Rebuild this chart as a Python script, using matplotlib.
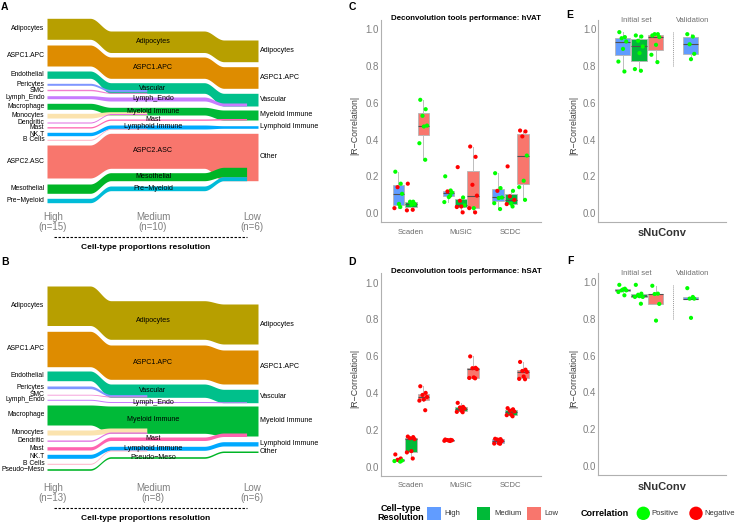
import numpy as np
import matplotlib
matplotlib.use("Agg")
import matplotlib.pyplot as plt
from matplotlib.patches import Rectangle, Circle

plt.rcParams['font.family'] = ['Liberation Sans', 'DejaVu Sans']

W, H = 740, 524

# ---------------- alluvial data (stacked positions at High / Medium / Low) ----------------
# panel A (hVAT)
A_flow = ['Adipocytes', 'ASPC1.APC', 'Endothelial', 'Macrophage', 'NK.T', 'ASPC2.ASC',
          'Lymph_Endo', 'Mesothelial', 'Pre−Myeloid', 'Pericytes', 'SMC', 'Monocytes',
          'Dendritic', 'Mast', 'B Cells']
A_mid = ['Adipocytes', 'ASPC1.APC', 'Vascular', 'Myeloid Immune', 'Lymphoid Immune', 'ASPC2.ASC',
         'Lymph_Endo', 'Mesothelial', 'Pre−Myeloid', None, None, None, None, 'Mast', None]
A_low = ['Adipocytes', 'ASPC1.APC', 'Vascular', 'Myeloid Immune', 'Lymphoid Immune', 'Other',
         None, None, None, None, None, None, None, None, None]
A_top = [[18.3, 31, 40], [45, 57, 66.7], [71, 82.7, 93.3], [103.3, 107.3, 110], [132.3, 125, 125.7],
         [145, 133.3, 133.3], [95.7, 97, 103], [184, 172.7, 167.3], [198.3, 186, 176.7],
         [83.3, 89.5], [89.3, 92.3], [113.3, 111.7], [122, 113.5], [126.7, 119, 118.5], [139.3, 128.3]]
A_bot = [[39.3, 52.5, 61.7], [66, 78.3, 88.3], [78.3, 93.3, 106], [109.3, 115, 120], [135.7, 129, 128.3],
         [178, 168.3, 180.7], [98.7, 101, 106], [193.3, 180.7, 176.7], [202.7, 190.7, 180.7],
         [85.3, 91.5], [90.7, 93.3], [118, 115], [123, 114.5], [128, 120.3, 120], [140.3, 129.3]]
A_n = [15, 10, 6]

# panel B (hSAT)
B_flow = ['Adipocytes', 'ASPC1.APC', 'Endothelial', 'Macrophage', 'NK.T', 'Pseudo−Meso',
          'Lymph_Endo', 'Pericytes', 'SMC', 'Monocytes', 'Dendritic', 'Mast', 'B Cells']
B_mid = ['Adipocytes', 'ASPC1.APC', 'Vascular', 'Myeloid Immune', 'Lymphoid Immune', 'Pseudo−Meso',
         'Lymph_Endo', None, None, None, None, 'Mast', None]
B_low = ['Adipocytes', 'ASPC1.APC', 'Vascular', 'Myeloid Immune', 'Lymphoid Immune', 'Other',
         None, None, None, None, None, None, None]
B_top = [[26, 40.7, 44], [71.3, 85, 90], [111, 124, 129.3], [145, 146, 146], [194.3, 186.3, 181.7],
         [208.7, 196.7, 191], [139.3, 141.5, 141.7], [126, 134.5], [134.3, 136], [170, 168],
         [180, 172], [186.7, 177, 173], [203.3, 190]]
B_bot = [[65.5, 79.3, 84], [106.7, 119.3, 124], [120.7, 137.3, 142.7], [165, 173.3, 176], [198.3, 190.3, 186],
         [210.3, 198.3, 192.5], [140.3, 142.5, 142.7], [128.7, 136.5], [135, 137], [175, 173.3],
         [181.3, 173.3], [190, 180.5, 176.5], [204.3, 191]]
B_n = [13, 8, 6]

stages = ['High', 'Medium', 'Low']

# ---------------- correlation data (signed R; |R| is plotted) ----------------
tools = ['Scaden', 'MuSiC', 'SCDC']
# [High, Medium, Low]
vat_scaden = [[0.225, 0.16, -0.141, 0.105, 0.05, -0.027, 0.033],
              [-0.16, 0.062, 0.062, 0.05, 0.045, -0.015, -0.018],
              [0.616, 0.565, 0.529, 0.476, 0.471, 0.38, 0.29]]
vat_music = [[0.2, 0.123, -0.118, 0.112, 0.087, 0.06, 0.095],
             [-0.25, 0.085, -0.067, 0.042, -0.036, -0.033, -0.004],
             [-0.362, -0.306, -0.154, -0.095, 0.027, -0.027, -0.004]]
vat_scdc = [[0.217, 0.136, -0.121, 0.085, 0.082, 0.054, 0.022],
            [-0.254, 0.121, -0.091, -0.072, 0.051, -0.049, 0.036],
            [-0.449, -0.444, -0.417, 0.313, 0.176, 0.141, 0.072]]

sat_scaden = [[-0.067, -0.045, -0.038, 0.034, -0.036, 0.031, 0.028],
              [-0.164, -0.161, -0.155, -0.15, -0.085, -0.078, -0.045],
              [-0.437, -0.401, -0.39, -0.379, -0.365, -0.359, -0.307]]
sat_music = [[-0.148, -0.146, -0.145, -0.144, -0.142, -0.141, -0.140],
             [-0.347, -0.325, -0.322, -0.316, -0.305, -0.298, -0.296],
             [-0.599, -0.537, -0.535, -0.53, -0.485, -0.482, -0.48]]
sat_scdc = [[-0.152, -0.15, -0.148, -0.14, -0.128, -0.126, -0.125],
            [-0.318, -0.312, -0.305, -0.3, -0.283, -0.28, -0.274],
            [-0.569, -0.527, -0.52, -0.515, -0.49, -0.477, -0.475]]

# sNuConv: initial set [High, Medium, Low] and validation (High)
vat_snuconv = [[0.984, 0.957, 0.951, 0.933, 0.893, 0.824, 0.77],
               [0.966, 0.96, 0.937, 0.906, 0.87, 0.783, 0.774],
               [0.966, 0.973, 0.973, 0.957, 0.915, 0.861, 0.821]]
vat_validation = [0.973, 0.96, 0.918, 0.866, 0.837]
sat_snuconv = [[0.987, 0.966, 0.957, 0.957, 0.962, 0.948, 0.93],
               [0.987, 0.939, 0.933, 0.921, 0.925, 0.921, 0.884],
               [0.982, 0.939, 0.937, 0.883, 0.792]]
sat_validation = [0.969, 0.921, 0.912, 0.912, 0.807]

# ---------------- styles ----------------
FLOW_COLORS = {'Adipocytes': '#B79F00', 'ASPC1.APC': '#DE8C00', 'Endothelial': '#00C08B',
               'Macrophage': '#00BA38', 'NK.T': '#00A9FF', 'ASPC2.ASC': '#F8766D',
               'Lymph_Endo': '#C77CFF', 'Mesothelial': '#00B526', 'Pre−Myeloid': '#00BCD8',
               'Pericytes': '#7F96FF', 'SMC': '#F27FCF', 'Monocytes': '#FBE3AE',
               'Dendritic': '#E16FE0', 'Mast': '#FF64B0', 'B Cells': '#FFB3C8',
               'Pseudo−Meso': '#00B526'}
RES_COLORS = ['#619CFF', '#00BA38', '#F8766D']
POS_COL, NEG_COL = '#00FF00', '#FF0000'
JITTER = np.array([-0.7, 0.5, -0.2, 0.8, 0.1, -0.9, 0.4, -0.4])
KNOTS = [47, 90, 111, 204, 224, 258]
STAGE_X = [53, 153, 252]
GREY = '#7f7f7f'

fig = plt.figure(figsize=(W / 100, H / 100), dpi=100)


def px_axes(x0, y0, x1, y1):
    return fig.add_axes([x0 / W, 1 - y1 / H, (x1 - x0) / W, (y1 - y0) / H])


def stage_curve(x, v):
    t1 = np.clip((x - KNOTS[1]) / (KNOTS[2] - KNOTS[1]), 0, 1)
    out = v[0] + (v[1] - v[0]) * (1 - np.cos(np.pi * t1)) / 2
    if len(v) > 2:
        t2 = np.clip((x - KNOTS[3]) / (KNOTS[4] - KNOTS[3]), 0, 1)
        out = out + (v[2] - v[1]) * (1 - np.cos(np.pi * t2)) / 2
    return out


def draw_alluvial(ax, flows, mids, lows, tops, bots, ns, axis_y):
    xs = np.linspace(KNOTS[0], KNOTS[-1], 500)
    for name, mid, low, top, bot in zip(flows, mids, lows, tops, bots):
        if len(top) == 2:
            end = 147
        elif low is None:
            end = 247
        else:
            end = KNOTS[-1]
        x = xs[xs <= end]
        ax.fill_between(x, stage_curve(x, top), stage_curve(x, bot),
                        color=FLOW_COLORS[name], lw=0)
        ax.text(44.5, (top[0] + bot[0]) / 2, name, ha='right', va='center', fontsize=4.9)
        if mid:
            ax.text(153, (top[1] + bot[1]) / 2, mid, ha='center', va='center', fontsize=5.1, zorder=5)
        if low:
            ax.text(260, (top[2] + bot[2]) / 2, low, ha='left', va='center', fontsize=5.1)
    for sx, st, n in zip(STAGE_X, stages, ns):
        ax.text(sx, axis_y, f'{st}\n(n={n})', ha='center', va='center', fontsize=7,
                color=GREY, linespacing=1.1)
    ax.plot([54, 247], [axis_y + 14.7] * 2, color='black', lw=0.8, ls=(0, (2.2, 1.4)))
    ax.text(146, axis_y + 25.5, 'Cell-type proportions resolution', ha='center', va='center',
            fontsize=6, fontweight='bold')
    ax.set_xlim(0, 340)
    ax.axis('off')


axA = px_axes(0, 0, 340, 262)
axA.set_ylim(262, 0)
draw_alluvial(axA, A_flow, A_mid, A_low, A_top, A_bot, A_n, 222)

axB = px_axes(0, 260, 340, 524)
axB.set_ylim(264, 0)
draw_alluvial(axB, B_flow, B_mid, B_low, B_top, B_bot, B_n, 233)


def box_with_points(ax, vals, pos, width, color, spread):
    vals = np.array(vals)
    r = np.abs(vals)
    ax.boxplot(r, positions=[pos], widths=width, patch_artist=True, showfliers=False,
               showcaps=False, manage_ticks=False,
               boxprops=dict(facecolor=color, edgecolor='#b5b5b5', lw=0.6),
               whiskerprops=dict(color='#bdbdbd', lw=0.7),
               medianprops=dict(color='#505050', lw=0.8))
    ax.scatter(pos + JITTER[:len(r)] * spread, r, s=9, lw=0, zorder=3,
               c=np.where(vals > 0, POS_COL, NEG_COL))


def style_corr(ax, lab_x):
    ax.set_ylim(-0.05, 1.05)
    ax.set_yticks(np.arange(0, 1.01, 0.2))
    ax.set_yticklabels([f'{t:.1f}' for t in np.arange(0, 1.01, 0.2)])
    for s in ['top', 'right']:
        ax.spines[s].set_visible(False)
    for s in ['left', 'bottom']:
        ax.spines[s].set_color('#b0b0b0')
        ax.spines[s].set_linewidth(0.8)
    ax.tick_params(axis='y', colors=GREY, labelsize=7, length=0, pad=1.5)
    ax.tick_params(axis='x', colors='#6b6b6b', labelsize=5.5, length=0, pad=4.5)
    ax.text(lab_x, 0.48, '|R−Correlation|', rotation=90, ha='center', va='center',
            fontsize=6.3, color='#404040', transform=ax.transAxes)


def draw_tools(ax, data, title):
    for g, tool_vals in enumerate(data):
        for r, vals in enumerate(tool_vals):
            box_with_points(ax, vals, g + 1 + (r - 1) * 0.25, 0.235, RES_COLORS[r], 0.09)
    ax.set_xlim(0.4, 3.6)
    ax.set_xticks([1, 2, 3])
    ax.set_xticklabels(tools)
    style_corr(ax, -0.163)
    ax.text(0.532, 1.009, title, ha='center', va='center', fontsize=5.7,
            fontweight='bold', transform=ax.transAxes)


def draw_snuconv(ax, initial, validation, lab_y):
    for r, vals in enumerate(initial):
        box_with_points(ax, vals, r + 1, 0.92, RES_COLORS[r], 0.28)
    box_with_points(ax, validation, 5.12, 0.92, RES_COLORS[0], 0.28)
    ax.set_xlim(-0.47, 7.27)
    ax.set_xticks([])
    style_corr(ax, -0.196)
    ax.vlines(4.04, 0.8, 0.99, colors='#9a9a9a', lw=0.7, linestyles=(0, (1, 1)))
    tr = ax.get_xaxis_transform()
    ax.text(1.82, 1.0, 'Initial set', ha='center', va='center', fontsize=5.5, color='#707070', transform=tr)
    ax.text(5.23, 1.0, 'Validation', ha='center', va='center', fontsize=5.5, color='#707070', transform=tr)
    ax.text(0.5, lab_y, 'sNuConv', ha='center', va='center', fontsize=8, fontweight='bold',
            color='#333333', transform=ax.transAxes)


axC = px_axes(381, 20, 540.7, 222.3)
draw_tools(axC, [vat_scaden, vat_music, vat_scdc], 'Deconvolution tools performance: hVAT')
axD = px_axes(381, 273.3, 540.7, 476)
draw_tools(axD, [sat_scaden, sat_music, sat_scdc], 'Deconvolution tools performance: hSAT')
axE = px_axes(598.3, 20, 726, 222.3)
draw_snuconv(axE, vat_snuconv, vat_validation, -0.054)
axF = px_axes(598.3, 273.3, 726, 475)
draw_snuconv(axF, sat_snuconv, sat_validation, -0.058)

# legend strip
axL = px_axes(330, 495, 740, 524)
axL.set_xlim(330, 740)
axL.set_ylim(524, 495)
axL.axis('off')
axL.text(401, 513.3, 'Cell−type\nResolution', ha='center', va='center', fontsize=6.5,
         fontweight='bold', linespacing=1.05)
for x0, col, lab in zip([427.3, 477, 527.3], RES_COLORS, stages):
    axL.add_patch(Rectangle((x0, 506.6), 13.4, 13.4, facecolor=col, edgecolor='none'))
    axL.text(x0 + 17.5, 513.3, lab, ha='left', va='center', fontsize=5.5, color='#333333')
axL.text(604.7, 513.3, 'Correlation', ha='center', va='center', fontsize=6.5, fontweight='bold')
for cx, col, lab in zip([643.3, 696], [POS_COL, NEG_COL], ['Positive', 'Negative']):
    axL.add_patch(Circle((cx, 513.3), 6.7, facecolor=col, edgecolor='none'))
    axL.text(cx + 8.5, 513.3, lab, ha='left', va='center', fontsize=5.5, color='#333333')

# panel letters
for lx, ly, letter in [(4.5, 7, 'A'), (5, 262, 'B'), (352, 7, 'C'), (352, 262, 'D'),
                       (570, 15, 'E'), (570, 261, 'F')]:
    fig.text(lx / W, 1 - ly / H, letter, ha='center', va='center', fontsize=7.5, fontweight='bold')

fig.savefig('out.png', dpi=100, facecolor='white')
